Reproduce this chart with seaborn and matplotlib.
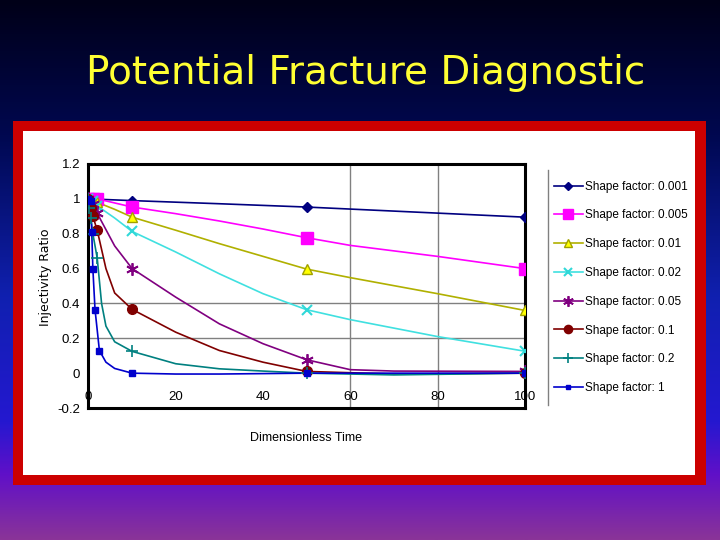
import numpy as np
import pandas as pd
import matplotlib
matplotlib.use("Agg")
import matplotlib.pyplot as plt
from matplotlib.colors import LinearSegmentedColormap
from matplotlib.lines import Line2D
from matplotlib.patches import Rectangle
import seaborn as sns

# Series labels
labels = ["Shape factor: 0.001", "Shape factor: 0.005", "Shape factor: 0.01",
          "Shape factor: 0.02", "Shape factor: 0.05", "Shape factor: 0.1",
          "Shape factor: 0.2", "Shape factor: 1"]

# Marked data points (dimensionless time, injectivity ratio)
pt_t_0001 = [0, 10, 50, 100]
pt_v_0001 = [1.0, 0.99, 0.953, 0.895]
pt_t_0005 = [0, 1, 2, 10, 50, 100]
pt_v_0005 = [1.0, 1.0, 1.0, 0.953, 0.777, 0.60]
pt_t_001 = [0, 2, 10, 50, 100]
pt_v_001 = [1.0, 0.98, 0.895, 0.597, 0.36]
pt_t_002 = [0, 1, 2, 10, 50, 100]
pt_v_002 = [1.0, 0.99, 0.96, 0.813, 0.364, 0.126]
pt_t_005 = [0, 1, 2, 10, 50, 100]
pt_v_005 = [1.0, 0.97, 0.917, 0.60, 0.077, 0.01]
pt_t_01 = [0, 0.5, 1, 2, 10, 50, 100]
pt_v_01 = [1.0, 0.95, 0.90, 0.82, 0.366, 0.01, 0.0]
pt_t_02 = [0, 0.1, 0.5, 1, 2, 10, 50, 100]
pt_v_02 = [1.0, 0.95, 0.89, 0.80, 0.66, 0.125, 0.0, 0.0]
pt_t_1 = [0, 0.5, 0.75, 1, 1.5, 2.5, 10, 50, 100]
pt_v_1 = [1.0, 0.99, 0.81, 0.60, 0.364, 0.13, 0.0, 0.0, 0.0]

# Extra points (no markers)
cv_t_0001 = [30]
cv_v_0001 = [0.972]
cv_t_0005 = [20, 30, 40, 60, 80]
cv_v_0005 = [0.915, 0.873, 0.827, 0.733, 0.67]
cv_t_001 = [6, 20, 30, 40, 60, 80]
cv_v_001 = [0.94, 0.82, 0.743, 0.67, 0.548, 0.456]
cv_t_002 = [6, 20, 30, 40, 60, 80]
cv_v_002 = [0.89, 0.695, 0.57, 0.456, 0.307, 0.21]
cv_t_005 = [6, 20, 30, 40, 60, 70]
cv_v_005 = [0.73, 0.436, 0.283, 0.169, 0.02, 0.012]
cv_t_01 = [4, 6, 20, 30, 40, 70]
cv_v_01 = [0.60, 0.46, 0.235, 0.13, 0.063, -0.005]
cv_t_02 = [3, 4, 6, 20, 30, 40, 70]
cv_v_02 = [0.40, 0.27, 0.18, 0.054, 0.025, 0.012, -0.01]
cv_t_1 = [4, 6, 20, 30]
cv_v_1 = [0.063, 0.027, -0.005, -0.005]

pt_t = [pt_t_0001, pt_t_0005, pt_t_001, pt_t_002, pt_t_005, pt_t_01, pt_t_02, pt_t_1]
pt_v = [pt_v_0001, pt_v_0005, pt_v_001, pt_v_002, pt_v_005, pt_v_01, pt_v_02, pt_v_1]
cv_t = [cv_t_0001, cv_t_0005, cv_t_001, cv_t_002, cv_t_005, cv_t_01, cv_t_02, cv_t_1]
cv_v = [cv_v_0001, cv_v_0005, cv_v_001, cv_v_002, cv_v_005, cv_v_01, cv_v_02, cv_v_1]

x_ticks = [0, 20, 40, 60, 80, 100]
y_ticks = [-0.2, 0, 0.2, 0.4, 0.6, 0.8, 1.0, 1.2]
y_tick_labels = ["-0.2", "0", "0.2", "0.4", "0.6", "0.8", "1", "1.2"]
grid_y = [0.2, 0.4]
grid_x = [60, 80]

# styles: line colour, marker, marker size, face, edge, edge width
styles = [
    ("#000080", "D", 5, "#000080", "#000080", 1.0),
    ("#FF00FF", "s", 8, "#FF00FF", "#FF00FF", 1.0),
    ("#B0B000", "^", 7, "#FFFF00", "#A0A000", 1.0),
    ("#40E0E0", "x", 7, "#30D8D8", "#30D8D8", 1.5),
    ("#800080", (6, 2, 0), 9, "#800080", "#800080", 1.3),
    ("#800000", "o", 7, "#800000", "#800000", 1.0),
    ("#008080", "+", 9, "#008080", "#008080", 1.2),
    ("#0000CC", "s", 4, "#0000CC", "#0000CC", 1.0),
]

arial = ["Liberation Sans", "DejaVu Sans"]

fig = plt.figure(figsize=(7.2, 5.4), dpi=100)

# slide background
bg = fig.add_axes([0, 0, 1, 1])
cmap = LinearSegmentedColormap.from_list(
    "slide", [(0.0, "#000018"), (0.25, "#000850"), (0.55, "#1020b0"),
              (0.78, "#2418d0"), (0.88, "#6010c8"), (1.0, "#8a3498")])
bg.imshow(np.linspace(0, 1, 256).reshape(-1, 1), aspect="auto", cmap=cmap,
          extent=[0, 1, 0, 1])
bg.add_patch(Rectangle((13 / 720, 55 / 540), 693 / 720, 364 / 540,
                       facecolor="#CC0000", edgecolor="none"))
bg.add_patch(Rectangle((23 / 720, 65 / 540), 672 / 720, 344 / 540,
                       facecolor="white", edgecolor="none"))
bg.set_xlim(0, 1)
bg.set_ylim(0, 1)
bg.axis("off")

fig.text(0.508, 1 - 84 / 540, "Potential Fracture Diagnostic", ha="center",
         va="baseline", color="#FFFF33", fontsize=28, family="DejaVu Sans")

ax = fig.add_axes([0.1229, 0.2444, 0.606, 0.4519])
ax.set_facecolor("white")

for gy in grid_y:
    ax.axhline(gy, color="#808080", lw=1, zorder=1)
for gx in grid_x:
    ax.axvline(gx, color="#808080", lw=1, zorder=1)

handles = []
for i, lab in enumerate(labels):
    lc, mk, ms, mf, me, mw = styles[i]
    line_df = pd.DataFrame({"t": pt_t[i] + cv_t[i], "v": pt_v[i] + cv_v[i]})
    line_df = line_df.sort_values("t")
    sns.lineplot(data=line_df, x="t", y="v", estimator=None, sort=True,
                 color=lc, lw=1.2, ax=ax, zorder=3)
    pts_df = pd.DataFrame({"t": pt_t[i], "v": pt_v[i]})
    sns.lineplot(data=pts_df, x="t", y="v", estimator=None, linestyle="",
                 marker=mk, markersize=ms, markerfacecolor=mf,
                 markeredgecolor=me, markeredgewidth=mw, color=lc, ax=ax,
                 zorder=4)
    handles.append(Line2D([], [], color=lc, lw=1.2, marker=mk,
                          markersize=ms * 0.85, markerfacecolor=mf,
                          markeredgecolor=me, markeredgewidth=mw, label=lab))

ax.set_xlim(0, 100)
ax.set_ylim(-0.2, 1.2)
ax.set_xticks(x_ticks)
ax.set_xticklabels([str(x) for x in x_ticks], family=arial, fontsize=9.5)
ax.set_yticks(y_ticks)
ax.set_yticklabels(y_tick_labels, family=arial, fontsize=9.5)
ax.tick_params(axis="x", length=0, pad=-12)
ax.tick_params(axis="y", length=0, pad=6)
ax.set_xlabel("")
ax.set_ylabel("")
for sp in ax.spines.values():
    sp.set_color("black")
    sp.set_linewidth(2.2)

fig.text(45 / 720, 1 - 277 / 540, "Injectivity Ratio", rotation=90,
         ha="center", va="center", fontsize=9, family="DejaVu Sans")
fig.text(306 / 720, 1 - 438 / 540, "Dimensionless Time", ha="center",
         va="center", fontsize=9, family=arial)

leg = fig.legend(handles=handles, loc="upper left",
                 bbox_to_anchor=(549 / 720, 1 - 176 / 540), frameon=False,
                 prop={"family": arial, "size": 8.5}, handlelength=2.5,
                 labelspacing=1.42, handletextpad=0.15, borderaxespad=0)
fig.add_artist(Line2D([548 / 720, 548 / 720], [1 - 405 / 540, 1 - 170 / 540],
                      color="#808080", lw=1, transform=fig.transFigure))

fig.savefig("out.png", dpi=100)
